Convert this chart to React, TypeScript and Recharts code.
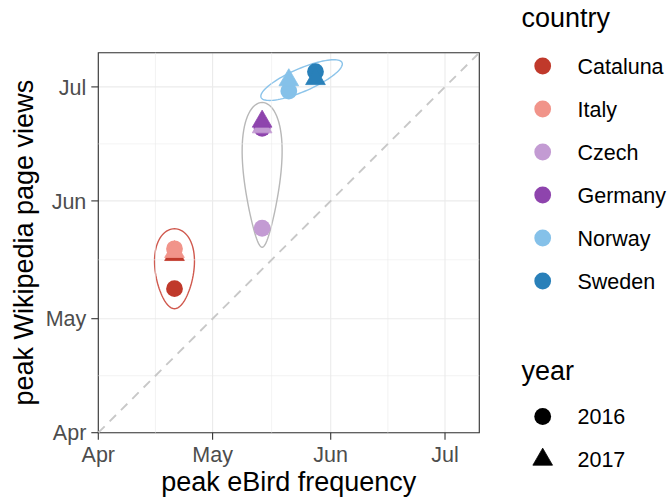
import {
  CartesianGrid,
  ReferenceArea,
  ReferenceLine,
  Scatter,
  ScatterChart,
  XAxis,
  YAxis,
} from "recharts";

// day of year (non-leap): Apr 1 = 91, May 1 = 121, Jun 1 = 152, Jul 1 = 182
const countries = ["Cataluna", "Italy", "Czech", "Germany", "Norway", "Sweden"];
const regions = ["south", "south", "central", "central", "north", "north"];
const ebird2016 = [111, 111, 134, 134, 141, 148];
const wiki2016 = [128.9, 139.4, 144.8, 171.1, 180.9, 186.0];
const ebird2017 = [111, 111, 134, 134, 141, 148];
const wiki2017 = [137.8, 138.6, 171.4, 172.9, 183.8, 184.1];
const years = ["2016", "2017"];
const monthTicks = [91, 121, 152, 182];
const monthLabels = ["Apr", "May", "Jun", "Jul"];
const minorBreaks = [106, 136.5, 167];
const domain: [number, number] = [91, 191];

const FONT = '"Liberation Sans", Arial, Helvetica, sans-serif';
const countryColors = ["#c0392b", "#f1948a", "#c39bd3", "#8e44ad", "#85c1e9", "#2980b9"];
const hullStyles: Record<string, { stroke: string; pad: number; half: number; egg: number }> = {
  south: { stroke: "#d0594e", pad: 20, half: 19.6, egg: 0.2 },
  central: { stroke: "#b8b8b8", pad: 19, half: 18.6, egg: 0.42 },
  north: { stroke: "#8cc4ea", pad: 28, half: 11.5, egg: 0 },
};

const rows2016 = countries.map((c, i) => ({ country: c, x: ebird2016[i], y: wiki2016[i] }));
const rows2017 = countries.map((c, i) => ({ country: c, x: ebird2017[i], y: wiki2017[i] }));

const colorOf = (country: string) => countryColors[countries.indexOf(country)];
const monthFmt = (v: number) => monthLabels[monthTicks.indexOf(v)] ?? "";

const Dot = (p: any) => <circle cx={p.cx} cy={p.cy} r={8.4} fill={colorOf(p.payload.country)} />;

const triPoints = (cx: number, cy: number, xc: number) =>
  `${cx},${cy - 1.555 * xc} ${cx + 1.347 * xc},${cy + 0.778 * xc} ${cx - 1.347 * xc},${cy + 0.778 * xc}`;

const Tri = (p: any) => {
  const col = colorOf(p.payload.country);
  return (
    <polygon
      points={triPoints(p.cx, p.cy, 7.3)}
      fill={col}
      stroke={col}
      strokeWidth={0.8}
      strokeLinejoin="round"
    />
  );
};

// smooth egg/ellipse around each region's points, built on the plot rect
const Hulls = (p: any) => {
  const sx = (d: number) => p.x + ((d - domain[0]) / (domain[1] - domain[0])) * p.width;
  const sy = (d: number) => p.y + p.height - ((d - domain[0]) / (domain[1] - domain[0])) * p.height;
  const groups = Array.from(new Set(regions));
  return (
    <g>
      {groups.map((g) => {
        const pts: { x: number; y: number }[] = [];
        regions.forEach((r, i) => {
          if (r !== g) return;
          pts.push({ x: sx(ebird2016[i]), y: sy(wiki2016[i]) });
          pts.push({ x: sx(ebird2017[i]), y: sy(wiki2017[i]) });
        });
        const mx = pts.reduce((s, q) => s + q.x, 0) / pts.length;
        const my = pts.reduce((s, q) => s + q.y, 0) / pts.length;
        let sxx = 0, sxy = 0, syy = 0;
        pts.forEach((q) => {
          sxx += (q.x - mx) ** 2;
          sxy += (q.x - mx) * (q.y - my);
          syy += (q.y - my) ** 2;
        });
        const ang = 0.5 * Math.atan2(2 * sxy, sxx - syy);
        let ux = Math.cos(ang), uy = Math.sin(ang);
        if (uy > 0) { ux = -ux; uy = -uy; }
        const vx = -uy, vy = ux;
        const s = pts.map((q) => (q.x - mx) * ux + (q.y - my) * uy);
        const t = pts.map((q) => (q.x - mx) * vx + (q.y - my) * vy);
        const sMid = (Math.min(...s) + Math.max(...s)) / 2;
        const tMid = (Math.min(...t) + Math.max(...t)) / 2;
        const cx = mx + ux * sMid + vx * tMid;
        const cy = my + uy * sMid + vy * tMid;
        const st = hullStyles[g];
        const a = (Math.max(...s) - Math.min(...s)) / 2 + st.pad;
        const b = st.half;
        const n = 90;
        let d = "";
        for (let k = 0; k <= n; k++) {
          const th = (k / n) * Math.PI * 2;
          const along = a * Math.cos(th);
          const across = b * Math.sin(th) * (1 + st.egg * Math.cos(th));
          const X = cx + ux * along + vx * across;
          const Y = cy + uy * along + vy * across;
          d += `${k === 0 ? "M" : "L"}${X.toFixed(2)},${Y.toFixed(2)}`;
        }
        return <path key={g} d={d + "Z"} fill="none" stroke={st.stroke} strokeWidth={1.4} />;
      })}
    </g>
  );
};

const YTitle = (props: any) => {
  const vb = props.viewBox;
  const x = vb.x + 33;
  const y = vb.y + vb.height / 2;
  return (
    <text
      x={x}
      y={y}
      transform={`rotate(-90 ${x} ${y})`}
      textAnchor="middle"
      fontSize={27}
      fontFamily={FONT}
      fill="#000"
    >
      peak Wikipedia page views
    </text>
  );
};

const Legend = () => (
  <svg
    width={669}
    height={504}
    style={{ position: "absolute", left: 0, top: 0, pointerEvents: "none" }}
    fontFamily={FONT}
  >
    <text x={521.5} y={27} fontSize={27} fill="#000">country</text>
    {countries.map((c, i) => (
      <g key={c}>
        <circle cx={542.7} cy={66 + i * 43} r={8.4} fill={countryColors[i]} />
        <text x={577.5} y={66 + i * 43} dy="0.36em" fontSize={21.5} fill="#000">{c}</text>
      </g>
    ))}
    <text x={521.5} y={380} fontSize={27} fill="#000">year</text>
    {years.map((yr, i) => (
      <g key={yr}>
        {i === 0 ? (
          <circle cx={542.7} cy={416.5 + i * 43} r={8.4} fill="#000" />
        ) : (
          <polygon points={triPoints(542.7, 416.5 + i * 43, 7.3)} fill="#000" stroke="#000" strokeWidth={0.8} />
        )}
        <text x={577.5} y={416.5 + i * 43} dy="0.36em" fontSize={21.5} fill="#000">{yr}</text>
      </g>
    ))}
  </svg>
);

export default function App() {
  return (
    <div style={{ position: "absolute", left: 0, top: 0, width: 669, height: 504, background: "#fff" }}>
      <ScatterChart width={669} height={504} margin={{ top: 52.7, right: 189.7, bottom: 0, left: 0 }}>
        <CartesianGrid stroke="#ebebeb" strokeWidth={1.1} />
        {minorBreaks.map((v) => (
          <ReferenceLine key={"vx" + v} x={v} stroke="#ebebeb" strokeWidth={0.6} />
        ))}
        {minorBreaks.map((v) => (
          <ReferenceLine key={"hy" + v} y={v} stroke="#ebebeb" strokeWidth={0.6} />
        ))}
        <XAxis
          type="number"
          dataKey="x"
          domain={domain}
          ticks={monthTicks}
          tickFormatter={monthFmt}
          allowDataOverflow
          axisLine={false}
          tickSize={7}
          tickMargin={7}
          tickLine={{ stroke: "#333333", strokeWidth: 1.1 }}
          tick={{ fontSize: 21.5, fill: "#4d4d4d", fontFamily: FONT }}
          height={71.3}
          label={{ value: "peak eBird frequency", position: "insideBottom", offset: 13, fontSize: 27, fill: "#000", fontFamily: FONT }}
        />
        <YAxis
          type="number"
          dataKey="y"
          domain={domain}
          ticks={monthTicks}
          tickFormatter={monthFmt}
          allowDataOverflow
          axisLine={false}
          tickSize={7}
          tickMargin={5}
          tickLine={{ stroke: "#333333", strokeWidth: 1.1 }}
          tick={{ fontSize: 21.5, fill: "#4d4d4d", fontFamily: FONT }}
          width={98.3}
          label={YTitle}
        />
        <ReferenceLine
          segment={[{ x: domain[0], y: domain[0] }, { x: domain[1], y: domain[1] }]}
          stroke="#c8c8c8"
          strokeWidth={1.9}
          strokeDasharray="9 7"
        />
        <ReferenceArea
          x1={domain[0]}
          x2={domain[1]}
          y1={domain[0]}
          y2={domain[1]}
          ifOverflow="visible"
          shape={(p: any) => <Hulls {...p} />}
        />
        <Scatter data={rows2016} shape={Dot} isAnimationActive={false} />
        <Scatter data={rows2017} shape={Tri} isAnimationActive={false} />
        <ReferenceArea
          x1={domain[0]}
          x2={domain[1]}
          y1={domain[0]}
          y2={domain[1]}
          ifOverflow="visible"
          fill="none"
          fillOpacity={0}
          stroke="#333333"
          strokeWidth={1.1}
        />
      </ScatterChart>
      <Legend />
    </div>
  );
}
